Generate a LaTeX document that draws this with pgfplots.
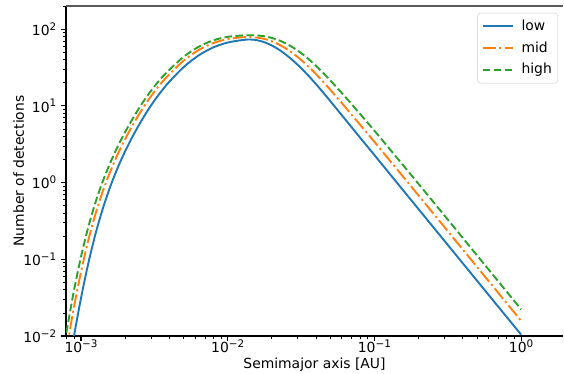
\documentclass[border=0pt]{standalone}
\usepackage{pgfplots}
\usepackage{pgfplotstable}
\pgfplotsset{compat=1.18}
\usepackage{fontspec}
\setmainfont{DejaVu Sans}
\definecolor{c0}{HTML}{1F77B4}
\definecolor{c1}{HTML}{FF7F0E}
\definecolor{c2}{HTML}{2CA02C}
\newcommand{\sexp}[1]{10\raisebox{0.38em}{\fontsize{10.4}{11}\selectfont #1}}
\newcommand{\mfont}{\fontsize{13.9}{16}\selectfont}

\pgfplotstableread{
x low mid high
7.943e-4 2.483e-3 6.397e-3 0.01096
8.913e-4 9.441e-3 0.02275 0.03758
1e-3 0.03126 0.06871 0.1078
1.122e-3 0.08913 0.1780 0.2646
1.259e-3 0.2188 0.3985 0.5623
1.413e-3 0.4677 0.7855 1.059
1.585e-3 0.8913 1.401 1.820
1.778e-3 1.557 2.334 2.951
1.995e-3 2.541 3.656 4.519
2.239e-3 3.936 5.499 6.683
2.512e-3 5.854 8.002 9.605
2.818e-3 8.414 11.25 13.34
3.162e-3 11.68 15.28 17.88
3.548e-3 15.67 20.11 23.31
3.981e-3 20.42 25.54 29.17
5.012e-3 31.99 38.85 43.65
6.310e-3 45.19 53.09 58.55
7.943e-3 57.54 65.64 71.21
0.01 66.83 74.20 79.25
0.01259 71.94 78.23 82.60
0.01413 73.28 78.52 83.18
0.01585 71.61 77.45 82.60
0.01778 67.45 74.47 80.72
0.01995 61.24 69.34 76.74
0.02239 53.83 62.81 71.29
0.02512 45.92 55.34 64.42
0.02818 38.19 47.43 56.75
0.03162 31.05 39.72 48.75
0.03548 24.72 32.51 40.83
0.03981 19.36 26.12 33.50
0.04467 14.96 20.65 26.92
0.05012 11.47 16.12 21.36
0.05623 8.759 12.52 16.81
0.06310 6.692 9.672 13.17
0.07943 3.904 5.735 7.915
0.1 2.279 3.393 4.738
0.1778 0.5923 0.8923 1.260
0.3162 0.1540 0.2331 0.3293
0.5623 0.04003 0.06061 0.08561
1 0.01041 0.01576 0.02226
}\datatable

\begin{document}
\mfont
\begin{tikzpicture}
\begin{axis}[name=ax, scale only axis, width=497pt, height=330pt,
  xmode=log, ymode=log,
  xmin=7.9e-4, xmax=1.93, ymin=0.01, ymax=200,
  axis lines*=left,
  axis line style={-, line width=1.1pt, black},
  tick align=outside,
  xtick={1e-3,1e-2,1e-1,1},
  xticklabels={\sexp{−3},\sexp{−2},\sexp{−1},\sexp{0}},
  ytick={1e-2,1e-1,1,10,100},
  yticklabels={\sexp{−2},\sexp{−1},\sexp{0},\sexp{1},\sexp{2}},
  minor xtick={8e-4,9e-4,2e-3,3e-3,4e-3,5e-3,6e-3,7e-3,8e-3,9e-3,2e-2,3e-2,4e-2,5e-2,6e-2,7e-2,8e-2,9e-2,0.2,0.3,0.4,0.5,0.6,0.7,0.8,0.9},
  minor ytick={2e-2,3e-2,4e-2,5e-2,6e-2,7e-2,8e-2,9e-2,0.2,0.3,0.4,0.5,0.6,0.7,0.8,0.9,2,3,4,5,6,7,8,9,20,30,40,50,60,70,80,90,200},
  major tick length=4.9pt, minor tick length=2.8pt,
  every major tick/.append style={line width=1.1pt, black},
  every minor tick/.append style={line width=0.8pt, black},
  tick label style={font=\mfont},
  xticklabel style={yshift=6pt},
  label style={font=\mfont},
  xlabel={Semimajor axis [AU]},
  ylabel={Number of detections},
  xlabel style={at={(axis description cs:0.5,-0.1)}, anchor=base},
  ylabel style={at={(axis description cs:-0.0845,0.5)}, anchor=base},
  legend style={at={(0.99,0.979)}, anchor=north east, draw=black!20,
    rounded corners=2.8pt, fill=white, fill opacity=0.8, draw opacity=1, text opacity=1,
    font=\mfont, inner xsep=4pt, inner ysep=5pt, row sep=5pt, column sep=6pt},
  legend cell align=left,
  legend image code/.code={\draw[#1] (0pt,0pt) -- (30pt,0pt);},
]
\addplot[c0, line width=1.9pt, smooth] table[x=x, y=low] {\datatable};
\addlegendentry{low}
\addplot[c1, line width=1.9pt, smooth, dash pattern=on 13.3pt off 3.3pt on 2.1pt off 3.3pt] table[x=x, y=mid] {\datatable};
\addlegendentry{mid}
\addplot[c2, line width=1.9pt, smooth, dash pattern=on 7.7pt off 3.3pt] table[x=x, y=high] {\datatable};
\addlegendentry{high}
\draw[black!65, line width=1.2pt] (rel axis cs:0,1) -- (rel axis cs:1,1);
\end{axis}
\pgfresetboundingbox
\path[use as bounding box] ([xshift=-66pt,yshift=-38pt]ax.south west) rectangle ([xshift=1pt,yshift=6pt]ax.north east);
\end{tikzpicture}
\end{document}
